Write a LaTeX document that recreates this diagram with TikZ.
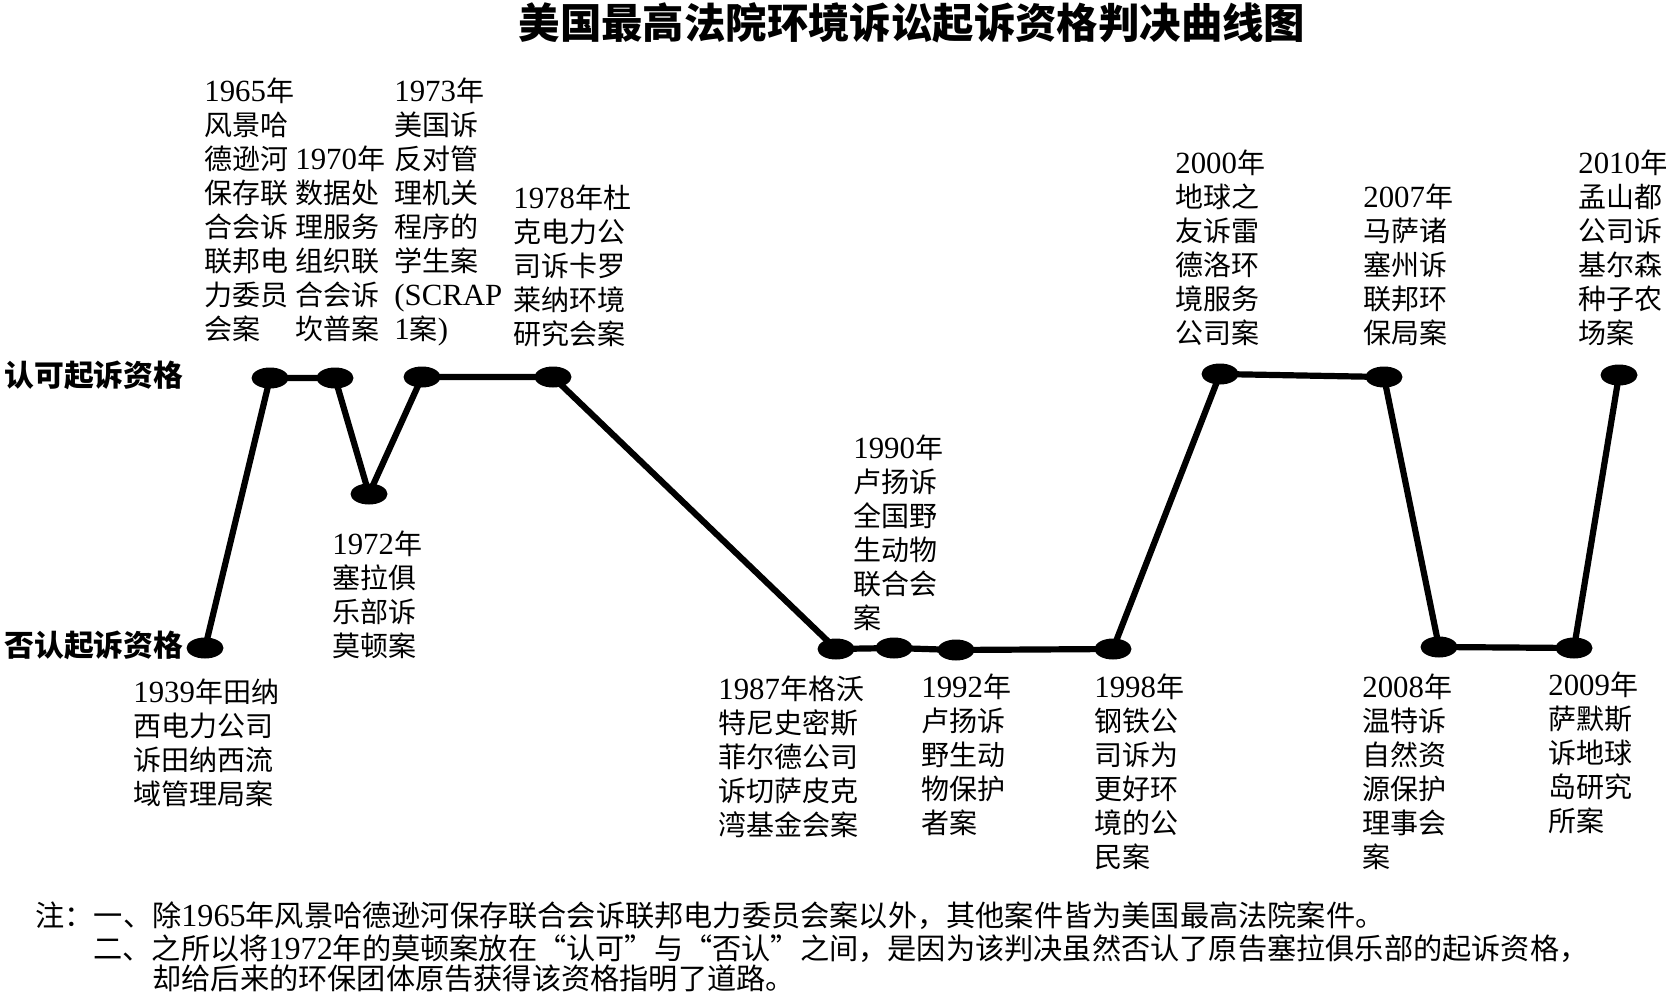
\documentclass[tikz,border=0pt]{standalone}
\usepackage{fontspec}
\setmainfont{Noto Sans CJK SC}
\newfontfamily\tnr[Scale=1.1]{Liberation Serif}
\newfontfamily\cjkfw[RawFeature=+fwid]{Noto Sans CJK SC}
\newcommand\yr[1]{{\tnr #1}}
\newcommand\fq[1]{{\cjkfw #1}}
\usetikzlibrary{shapes.geometric}
\begin{document}
\begin{tikzpicture}[x=0.5pt,y=-0.5pt,
  dot/.style={ellipse,fill=black,inner sep=0pt,minimum width=18.5pt,minimum height=10.5pt},
  case/.style={anchor=base west,align=left,inner sep=0pt,font=\fontsize{14}{17}\selectfont},
  curve/.style={line width=3.1pt,line join=round},
  axis/.style={anchor=west,inner sep=0pt,font=\fontsize{14.9}{17}\selectfont\bfseries},
  note/.style={anchor=base west,inner sep=0pt,font=\fontsize{14.6}{17}\selectfont}]
\useasboundingbox[fill=white] (0,0) rectangle (1666,995);

\node[inner sep=0pt,font=\fontsize{20.7}{24}\selectfont\bfseries] (title) at (912,23) {美国最高法院环境诉讼起诉资格判决曲线图};

\node[axis] (yes) at (4,375) {认可起诉资格};
\node[axis] (no) at (4,645) {否认起诉资格};

% dots
\node[dot] (d1939) at (205,648) {};
\node[dot] (d1965) at (270,378) {};
\node[dot] (d1970) at (335,378) {};
\node[dot] (d1972) at (369,494) {};
\node[dot] (d1973) at (422,377) {};
\node[dot] (d1978) at (553,377) {};
\node[dot] (d1987) at (836,649) {};
\node[dot] (d1990) at (894,648) {};
\node[dot] (d1992) at (956,650) {};
\node[dot] (d1998) at (1113,649) {};
\node[dot] (d2000) at (1220,374) {};
\node[dot] (d2007) at (1384,377) {};
\node[dot] (d2008) at (1439,647) {};
\node[dot] (d2009) at (1574,648) {};
\node[dot] (d2010) at (1619,375) {};

\draw[curve] (d1939.center) -- (d1965.center) -- (d1970.center) -- (d1972.center)
  -- (d1973.center) -- (d1978.center) -- (d1987.center) -- (d1990.center)
  -- (d1992.center) -- (d1998.center) -- (d2000.center) -- (d2007.center)
  -- (d2008.center) -- (d2009.center) -- (d2010.center);

% case labels (base = baseline of the last line)
\node[case] (l1939) at (133,804) {\yr{1939}年田纳\\西电力公司\\诉田纳西流\\域管理局案};
\node[case] (l1965) at (204,339) {\yr{1965}年\\风景哈\\德逊河\\保存联\\合会诉\\联邦电\\力委员\\会案};
\node[case] (l1970) at (295,339) {\yr{1970}年\\数据处\\理服务\\组织联\\合会诉\\坎普案};
\node[case] (l1972) at (332,656) {\yr{1972}年\\塞拉俱\\乐部诉\\莫顿案};
\node[case] (l1973) at (394,339) {\yr{1973}年\\美国诉\\反对管\\理机关\\程序的\\学生案\\\yr{(SCRAP}\\\yr{1}案\yr{)}};
\node[case] (l1978) at (513,344) {\yr{1978}年杜\\克电力公\\司诉卡罗\\莱纳环境\\研究会案};
\node[case] (l1987) at (718,835) {\yr{1987}年格沃\\特尼史密斯\\菲尔德公司\\诉切萨皮克\\湾基金会案};
\node[case] (l1990) at (853,628) {\yr{1990}年\\卢扬诉\\全国野\\生动物\\联合会\\案};
\node[case] (l1992) at (921,833) {\yr{1992}年\\卢扬诉\\野生动\\物保护\\者案};
\node[case] (l1998) at (1094,867) {\yr{1998}年\\钢铁公\\司诉为\\更好环\\境的公\\民案};
\node[case] (l2000) at (1175,343) {\yr{2000}年\\地球之\\友诉雷\\德洛环\\境服务\\公司案};
\node[case] (l2007) at (1363,343) {\yr{2007}年\\马萨诸\\塞州诉\\联邦环\\保局案};
\node[case] (l2008) at (1362,867) {\yr{2008}年\\温特诉\\自然资\\源保护\\理事会\\案};
\node[case] (l2009) at (1548,831) {\yr{2009}年\\萨默斯\\诉地球\\岛研究\\所案};
\node[case] (l2010) at (1578,343) {\yr{2010}年\\孟山都\\公司诉\\基尔森\\种子农\\场案};

% notes
\node[note] (n1) at (35,926) {注：一、除\yr{1965}年风景哈德逊河保存联合会诉联邦电力委员会案以外，其他案件皆为美国最高法院案件。};
\node[note] (n2) at (93,959) {二、之所以将\yr{1972}年的莫顿案放在\fq{“}认可\fq{”}与\fq{“}否认\fq{”}之间，是因为该判决虽然否认了原告塞拉俱乐部的起诉资格，};
\node[note] (n3) at (152,989) {却给后来的环保团体原告获得该资格指明了道路。};
\end{tikzpicture}
\end{document}
